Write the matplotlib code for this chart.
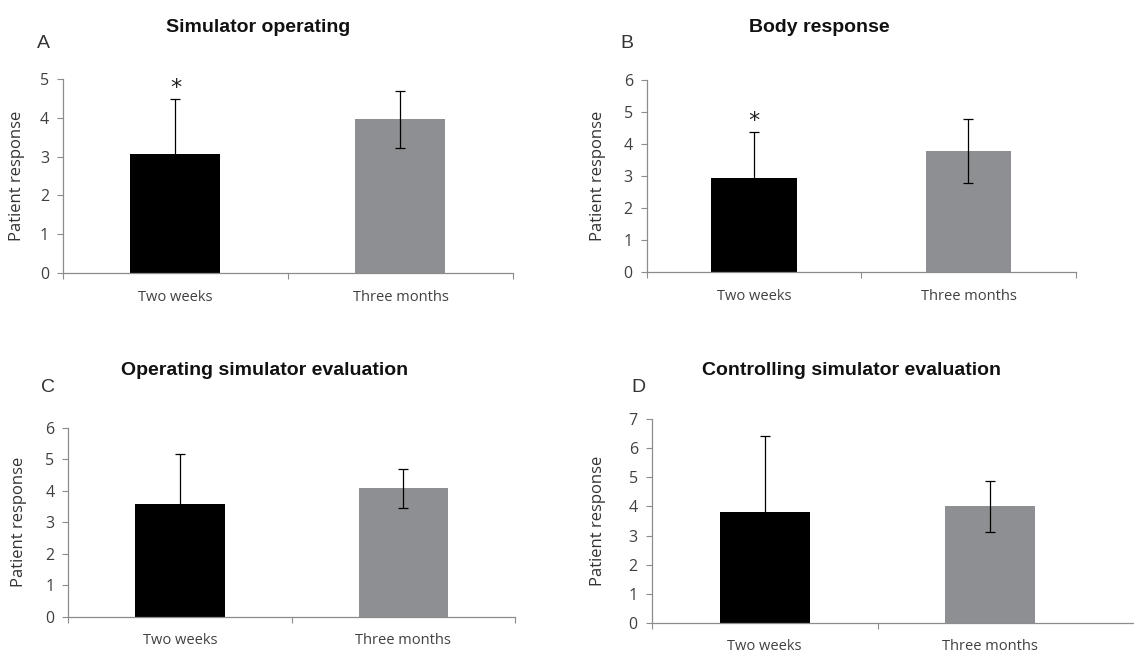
import numpy as np
import matplotlib
matplotlib.use('Agg')
import matplotlib.pyplot as plt

# group labels shared by every panel
groups = ['Two weeks', 'Three months']

# mean patient response and error (SD) per panel
sim_operating = [3.07, 3.96]
sim_operating_err = [1.41, 0.74]

body_response = [2.93, 3.79]
body_response_err = [1.45, 1.00]

operating_eval = [3.57, 4.07]
operating_eval_err = [1.59, 0.63]

controlling_eval = [3.80, 4.00]
controlling_eval_err = [2.62, 0.87]

panels = [
    ('A', 'Simulator operating', sim_operating, sim_operating_err, 5, True),
    ('B', 'Body response', body_response, body_response_err, 6, True),
    ('C', 'Operating simulator evaluation', operating_eval, operating_eval_err, 6, False),
    ('D', 'Controlling simulator evaluation', controlling_eval, controlling_eval_err, 7, False),
]

W, H = 1134, 655

# axes boxes in pixels: left, right, y of zero, y of top tick
boxes = [
    (63, 513, 273, 79),
    (646.7, 1075.7, 272, 80),
    (68.3, 515, 616.7, 427.7),
    (651.7, 1134, 622.7, 419.3),
]
# title centre x, y ; letter x, y ; ylabel x (pixels)
titles = [(258, 28), (819, 28), (265, 370), (852, 370)]
letters = [(43, 43), (627, 43), (48, 387), (638, 387)]
ylab_x = [17, 598, 19, 598]

bar_colors = ['#000000', '#8e8f92']
axis_grey = '#8c8c8c'
text_grey = '#404040'
tick_font = 'Open Sans'

fig = plt.figure(figsize=(W / 100, H / 100), dpi=100)

for i, (letter, title, vals, errs, ymax, star) in enumerate(panels):
    left, right, y0, ytop = boxes[i]
    ax = fig.add_axes([left / W, 1 - y0 / H, (right - left) / W, (y0 - ytop) / H])

    x = np.arange(len(groups))
    ax.bar(x, vals, width=0.4, color=bar_colors, zorder=2)
    ax.errorbar(x, vals, yerr=errs, fmt='none', ecolor='black',
                elinewidth=0.9, capsize=3.6, capthick=0.9, zorder=3)

    if star:
        ax.annotate('*', xy=(0, vals[0] + errs[0]), xytext=(0, 8),
                    textcoords='offset points', ha='center', va='center',
                    fontsize=16, family='DejaVu Sans', color='#222222')

    ax.set_ylim(0, ymax)
    ax.set_yticks(range(ymax + 1))
    if i == 3:
        # last panel runs off the right edge, so no closing tick
        unit = (990.3 - 764.7)
        ax.set_xlim(-(764.7 - left) / unit, (right - 764.7) / unit)
        ax.set_xticks([-0.5, 0.5], minor=True)
    else:
        ax.set_xlim(-0.5, 1.5)
        ax.set_xticks([-0.5, 0.5, 1.5], minor=True)

    ax.set_xticks(x)
    ax.set_xticklabels(groups, fontsize=10.5, family=tick_font, color=text_grey)
    ax.tick_params(axis='x', which='major', length=0, pad=12)
    ax.tick_params(axis='x', which='minor', length=4, width=0.8, color=axis_grey, direction='out')
    ax.tick_params(axis='y', length=4, width=0.8, color=axis_grey, pad=6,
                   labelsize=11.5, labelcolor=text_grey)
    for lab in ax.get_yticklabels():
        lab.set_family(tick_font)

    for side in ['top', 'right']:
        ax.spines[side].set_visible(False)
    for side in ['left', 'bottom']:
        ax.spines[side].set_color(axis_grey)
        ax.spines[side].set_linewidth(0.9)

    ycen = 1 - (y0 + ytop) / 2 / H
    fig.text(ylab_x[i] / W, ycen, 'Patient response', rotation=90, ha='center',
             va='center', fontsize=12, family=tick_font, color='#333333')

    tx, ty = titles[i]
    fig.text(tx / W, 1 - ty / H, title, ha='center', va='center', fontsize=14,
             fontweight='bold', family='Liberation Sans', color='#111111')
    lx, ly = letters[i]
    fig.text(lx / W, 1 - ly / H, letter, ha='center', va='center', fontsize=14,
             family='Liberation Sans', color='#333333')

fig.savefig('out.png', dpi=100)
